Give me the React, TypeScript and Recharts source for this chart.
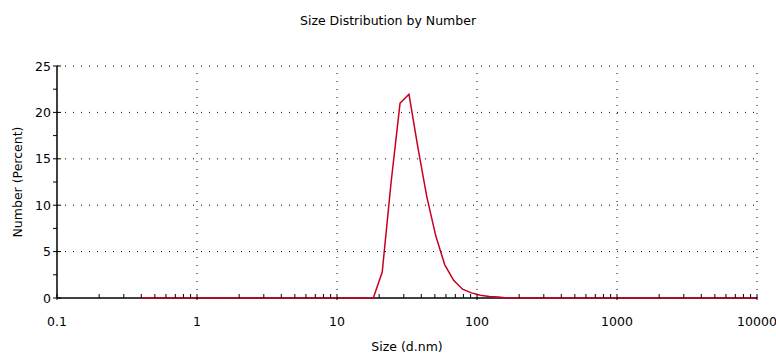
import React from "react";
import {
  Line,
  LineChart,
  ReferenceLine,
  XAxis,
  YAxis,
} from "recharts";

// Malvern-style size bins (d.nm) and number distribution (%)
const sizes = [
  0.4, 0.4632, 0.5365, 0.6213, 0.7195, 0.8332, 0.9649, 1.117, 1.294, 1.499,
  1.736, 2.01, 2.328, 2.696, 3.122, 3.615, 4.187, 4.849, 5.615, 6.503,
  7.531, 8.721, 10.1, 11.7, 13.54, 15.69, 18.17, 21.04, 24.36, 28.21,
  32.67, 37.84, 43.82, 50.75, 58.77, 68.06, 78.82, 91.28, 105.7, 122.4,
  141.8, 164.2, 190.1, 220.2, 255.0, 295.3, 342.0, 396.1, 458.7, 531.2,
  615.1, 712.4, 825.0, 955.4, 1106, 1281, 1484, 1718, 1990, 2305,
  2669, 3091, 3580, 4145, 4801, 5560, 6439, 7456, 8635, 10000,
];

const numbers = [
  0, 0, 0, 0, 0, 0, 0, 0, 0, 0,
  0, 0, 0, 0, 0, 0, 0, 0, 0, 0,
  0, 0, 0, 0, 0, 0, 0, 2.8, 12.5, 21.0,
  21.95, 16.2, 10.9, 6.7, 3.6, 1.9, 0.95, 0.55, 0.3, 0.17,
  0.12, 0, 0, 0, 0, 0, 0, 0, 0, 0,
  0, 0, 0, 0, 0, 0, 0, 0, 0, 0,
  0, 0, 0, 0, 0, 0, 0, 0, 0, 0,
];

const decadeTicks = [0.1, 1, 10, 100, 1000, 10000];
const minorXTicks = [
  0.2, 0.3, 0.4, 0.5, 0.6, 0.7, 0.8, 0.9,
  2, 3, 4, 5, 6, 7, 8, 9,
  20, 30, 40, 50, 60, 70, 80, 90,
  200, 300, 400, 500, 600, 700, 800, 900,
  2000, 3000, 4000, 5000, 6000, 7000, 8000, 9000,
];
const yMajorTicks = [0, 5, 10, 15, 20, 25];
const yMinorTicks = [2.5, 7.5, 12.5, 17.5, 22.5];

const data = sizes.map((size, i) => ({ size, number: numbers[i] }));

const FONT = "'DejaVu Sans', sans-serif";
const FS = 12.5;
const gridProps = { stroke: "#000", strokeDasharray: "1 7", strokeWidth: 1 };

const XTick = (props: any) => {
  const { x, y, payload } = props;
  const major = decadeTicks.includes(payload.value);
  return (
    <g>
      <line x1={x} x2={x} y1={y - 4} y2={y + (major ? 2 : 0)} stroke="#000" strokeWidth={1} />
      {major && (
        <text x={x} y={y + 28} textAnchor="middle" fontSize={FS} fill="#000" fontFamily={FONT}>
          {payload.value}
        </text>
      )}
    </g>
  );
};

const YTick = (props: any) => {
  const { x, y, payload } = props;
  const major = yMajorTicks.includes(payload.value);
  return (
    <g>
      <line x1={x - 4} x2={x + (major ? 4 : 0)} y1={y} y2={y} stroke="#000" strokeWidth={1} />
      {major && (
        <text x={x - 6} y={y + 4.5} textAnchor="end" fontSize={FS} fill="#000" fontFamily={FONT}>
          {payload.value}
        </text>
      )}
    </g>
  );
};

export default function App() {
  return (
    <div style={{ position: "fixed", left: 0, top: 0, width: 776, height: 354, background: "#fff" }}>
      <div
        style={{
          position: "absolute",
          top: 13,
          left: 0,
          width: 776,
          textAlign: "center",
          fontFamily: FONT,
          fontSize: FS,
          color: "#000",
        }}
      >
        Size Distribution by Number
      </div>
      <LineChart
        width={776}
        height={354}
        data={data}
        margin={{ top: 66, right: 19, bottom: 0, left: 0 }}
      >
        <XAxis
          dataKey="size"
          type="number"
          scale="log"
          domain={[0.1, 10000]}
          ticks={[...decadeTicks, ...minorXTicks]}
          allowDataOverflow
          interval={0}
          height={56}
          tickLine={false}
          tickSize={0}
          tickMargin={0}
          tick={<XTick />}
          axisLine={false}
          label={{
            value: "Size (d.nm)",
            position: "insideBottom",
            offset: 3,
            fontSize: FS,
            fill: "#000",
            fontFamily: FONT,
          }}
        />
        <YAxis
          type="number"
          domain={[0, 25]}
          ticks={[...yMajorTicks, ...yMinorTicks]}
          interval={0}
          width={57}
          tickLine={false}
          tickSize={0}
          tickMargin={0}
          tick={<YTick />}
          axisLine={{ stroke: "#000", strokeWidth: 1.5 }}
          label={{
            value: "Number (Percent)",
            angle: -90,
            position: "insideLeft",
            offset: 18,
            style: { textAnchor: "middle" },
            fontSize: FS,
            fill: "#000",
            fontFamily: FONT,
          }}
        />
        {decadeTicks.slice(1).map((v) => (
          <ReferenceLine key={`vx${v}`} x={v} {...gridProps} />
        ))}
        {yMajorTicks.slice(1).map((v) => (
          <ReferenceLine key={`hy${v}`} y={v} {...gridProps} />
        ))}
        <ReferenceLine y={0} stroke="#000" strokeWidth={1.5} />
        <Line
          type="linear"
          dataKey="number"
          stroke="#c8001e"
          strokeWidth={1.5}
          dot={false}
          isAnimationActive={false}
        />
      </LineChart>
    </div>
  );
}
